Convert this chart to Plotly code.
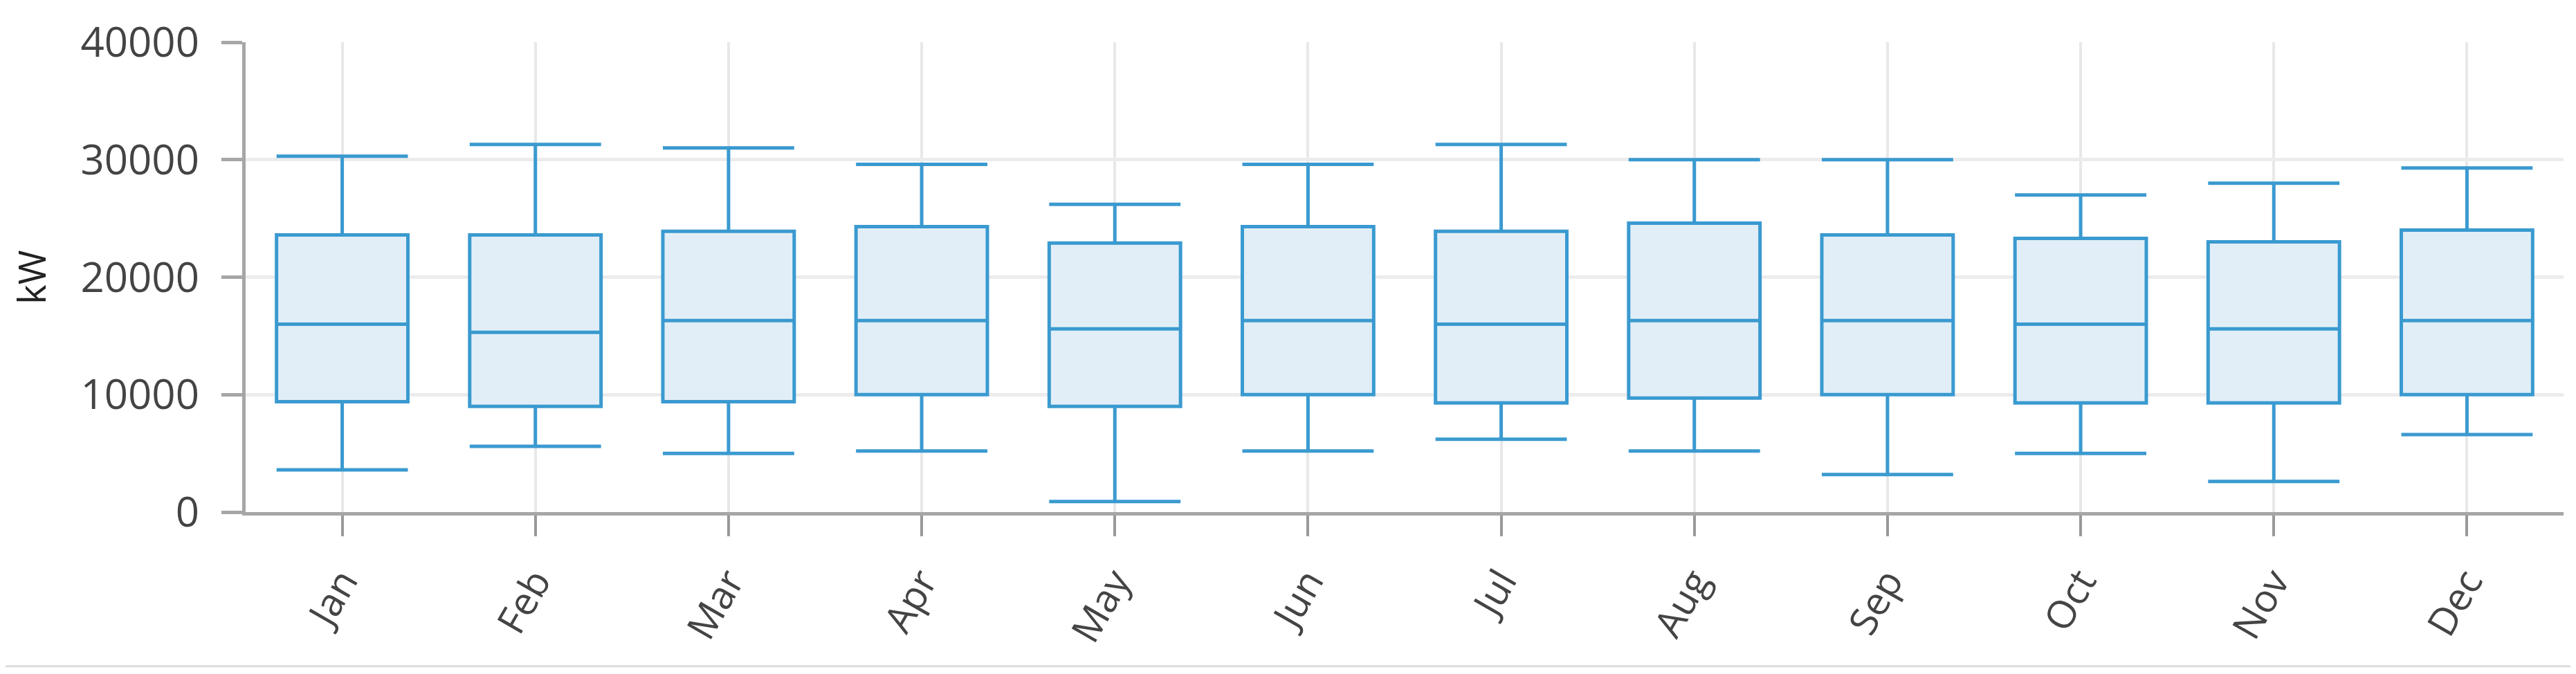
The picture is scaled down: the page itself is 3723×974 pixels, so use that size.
import plotly.graph_objects as go

months = ["Jan", "Feb", "Mar", "Apr", "May", "Jun",
          "Jul", "Aug", "Sep", "Oct", "Nov", "Dec"]

# box stats (kW)
upper = [30300, 31300, 31000, 29600, 26200, 29600, 31300, 30000, 30000, 27000, 28000, 29300]
q3 = [23600, 23600, 23900, 24300, 22900, 24300, 23900, 24600, 23600, 23300, 23000, 24000]
median = [16000, 15300, 16300, 16300, 15600, 16300, 16000, 16300, 16300, 16000, 15600, 16300]
q1 = [9400, 9000, 9400, 10000, 9000, 10000, 9300, 9700, 10000, 9300, 9300, 10000]
lower = [3600, 5600, 5000, 5200, 900, 5200, 6200, 5200, 3200, 5000, 2600, 6600]

y_ticks = [0, 10000, 20000, 30000, 40000]
y_labels = ["0", "10000", "20000", "30000", "40000"]

fig = go.Figure()

fig.add_trace(go.Box(
    x=months,
    q1=q1, median=median, q3=q3,
    lowerfence=lower, upperfence=upper,
    width=0.68,
    whiskerwidth=1,
    line=dict(color="#3a9ad0", width=5),
    fillcolor="#e1eef7",
    boxpoints=False,
    showlegend=False,
))

font_family = "Open Sans, Noto Sans, sans-serif"

# page body has an 8px margin, so the figure is a bit smaller than the window
fig.update_layout(
    width=3707, height=958,
    margin=dict(l=347, r=10, t=43, b=226),
    paper_bgcolor="white",
    plot_bgcolor="white",
    font=dict(family=font_family, size=56, color="#444"),
    xaxis=dict(
        type="category",
        range=[-0.5, 11.5],
        showline=True, linecolor="#a6a6a6", linewidth=5,
        showgrid=True, gridcolor="#e8e8e8", gridwidth=4,
        ticks="outside", ticklen=30, tickwidth=4, tickcolor="#999",
        tickangle=-60,
        tickfont=dict(size=56, color="#444"),
        ticklabelstandoff=10,
    ),
    yaxis=dict(
        range=[0, 40000],
        tickvals=y_ticks,
        ticktext=y_labels,
        showline=True, linecolor="#a6a6a6", linewidth=5,
        showgrid=True, gridcolor="#ececec", gridwidth=5,
        zeroline=False,
        ticks="outside", ticklen=30, tickwidth=5, tickcolor="#a6a6a6",
        tickfont=dict(size=60, color="#444"),
        ticklabelstandoff=20,
        title=dict(text="kW", font=dict(size=54, color="#222"), standoff=48),
    ),
    shapes=[dict(type="line", xref="paper", yref="paper",
                 x0=-0.2, x1=1.1, y0=-0.328, y1=-0.328,
                 line=dict(color="#dddddd", width=3))],
)

fig.write_html("out.html")
